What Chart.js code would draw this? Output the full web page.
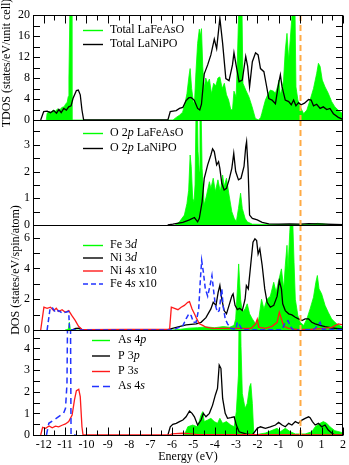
<!DOCTYPE html>
<html><head><meta charset="utf-8">
<script src="https://cdn.jsdelivr.net/npm/chart.js@4.4.1/dist/chart.umd.min.js"></script>
<style>
html,body{margin:0;padding:0;background:#fff;overflow:hidden}
#wrap{position:relative;width:349px;height:465px;background:#fff}
#wrap canvas{position:absolute;left:0;top:0}
</style></head><body>
<div id="wrap">
<canvas id="c0" width="349" height="465"></canvas>
<canvas id="c1" width="349" height="465"></canvas>
<canvas id="c2" width="349" height="465"></canvas>
<canvas id="c3" width="349" height="465"></canvas>
</div>
<script>
// ---------- tick labels ----------
const xTickLabels = [-12,-11,-10,-9,-8,-7,-6,-5,-4,-3,-2,-1,0,1,2];
const p1Ticks = [0,4,8,12,16,20];
const p2Ticks = [0,1,2,3];
const p3Ticks = [0,2,4,6];
const p4Ticks = [0,1,2,3,4];

// ---------- Panel 1: total DOS ----------
const totFeE = [-11.88,-11.84,-11.75,-11.65,-11.55,-11.45,-11.35,-11.25,-11.15,-11.05,-10.98,-10.9,-10.85,-10.82,-10.79,-10.76,-10.7,-10.68,
 -5.95,-5.8,-5.65,-5.5,-5.4,-5.3,-5.2,-5.15,-5.08,-5.0,-4.95,-4.88,-4.8,-4.72,-4.67,-4.62,-4.56,-4.5,-4.42,-4.33,-4.25,-4.15,-4.05,-3.95,-3.85,-3.76,-3.65,-3.55,-3.45,-3.35,-3.25,-3.17,-3.1,-3.0,-2.95,-2.89,-2.85,-2.74,-2.68,-2.55,-2.4,-2.25,-2.1,-1.95,-1.85,-1.8,-1.63,-1.5,-1.4,-1.25,-1.16,-1.05,-1.0,-0.93,-0.85,-0.78,-0.7,-0.62,-0.54,-0.47,-0.39,-0.35,-0.26,-0.2,-0.11,0.0,0.16,0.31,0.46,0.62,0.77,0.85,0.93,1.03,1.16,1.31,1.47,1.62,1.85,2.0];
const totFeV = [0,1.3,1.6,1.4,1.9,1.7,2.1,1.9,2.4,2.5,3.0,3.4,4.5,8,16,26,26,0,
 0,0.5,0.9,1.5,3.0,5.0,8.5,9.8,6.0,3.5,3.0,9,14.6,17.3,16,17.4,10.2,5.9,8.0,7.0,7.8,5.0,7.0,6.5,8.0,8.2,6.0,7.0,4.8,3.8,2.0,1.9,5.5,4.4,10,19,26,26,7.0,5.7,4.4,2.5,0.3,0,0.5,1.2,3.8,5.0,5.7,5.5,5.1,6.5,7.6,4.8,6.0,7.6,13.3,16.5,11.4,15.2,19.7,26,26,6.3,3.8,2.5,1.2,1.9,3.8,6.0,8.9,10.8,10.2,7.6,6.3,5.1,3.5,2.5,1.6,1.2];
const totNiE = [-12.14,-12.0,-11.84,-11.68,-11.53,-11.4,-11.29,-11.18,-11.06,-10.94,-10.83,-10.72,-10.63,-10.47,-10.38,-10.29,-10.21,-10.13,
 -6.19,-6.08,-5.95,-5.8,-5.65,-5.49,-5.34,-5.22,-5.11,-4.96,-4.8,-4.7,-4.62,-4.49,-4.33,-4.18,-4.02,-3.91,-3.76,-3.63,-3.48,-3.33,-3.17,-3.1,-2.99,-2.86,-2.71,-2.55,-2.46,-2.37,-2.24,-2.09,-1.97,-1.86,-1.7,-1.6,-1.47,-1.32,-1.16,-1.01,-0.93,-0.85,-0.7,-0.54,-0.42,-0.31,-0.2,-0.08,0.04,0.2,0.39,0.51,0.62,0.77,0.93,1.08,1.24,1.39,1.55,1.78,2.0];
const totNiV = [0,1.6,1.7,1.4,1.8,1.3,2.0,1.4,2.2,1.9,2.5,2.7,4.1,5.6,5.7,4.8,1.9,0,
 0,1.6,1.7,1.8,2.2,2.4,3.7,4.2,4.3,3.8,2.2,1.9,3.0,8.8,10.5,12.4,15.4,13.6,19.4,14.6,7.9,7.5,10.5,12.8,10.2,7.3,7.6,12.1,10.2,6.3,11.1,12.8,12.4,9.8,9.2,7.0,4.1,3.8,3.1,7.0,8.6,6.3,3.8,3.5,2.9,3.8,2.7,3.3,2.9,3.2,3.9,3.8,2.7,3.0,2.2,2.5,2.0,2.2,1.2,0.5,0.1];

// ---------- Panel 2: O 2p ----------
const o2pFeE = [-5.85,-5.65,-5.42,-5.3,-5.22,-5.15,-5.1,-5.03,-4.97,-4.92,-4.87,-4.82,-4.78,-4.72,-4.69,-4.64,-4.59,-4.49,-4.38,-4.25,-4.18,-4.07,-3.97,-3.85,-3.74,-3.63,-3.56,-3.45,-3.33,-3.2,-3.09,-2.99,-2.89,-2.79,-2.71,-2.58,-2.48,-2.24,-1.5,0.5,0.8,1.0,1.3,2.0];
const o2pFeV = [0,0.12,0.37,0.8,1.3,2.62,2.2,1.0,0.87,1.5,4.5,4.5,2.75,2.0,4.5,4.5,2.12,0.75,1.12,1.62,1.37,1.75,1.25,1.69,1.25,1.87,1.44,1.75,1.12,0.5,0.25,0.12,0.62,1.19,0.62,0.25,0.12,0.03,0.02,0.02,0.06,0.05,0.02,0.01];
const o2pNiE = [-6.2,-5.96,-5.49,-5.18,-4.95,-4.8,-4.72,-4.59,-4.49,-4.33,-4.18,-4.1,-4.02,-3.91,-3.82,-3.76,-3.67,-3.56,-3.45,-3.33,-3.2,-3.11,-3.02,-2.89,-2.77,-2.63,-2.55,-2.51,-2.44,-2.37,-2.24,-2.01,-1.78,-1.47,-1.0,-0.5,0.0,0.4,0.8,1.2,1.6,2.0];
const o2pNiV = [0,0.03,0.1,0.19,0.28,0.12,0.25,0.87,1.75,2.25,2.62,2.85,2.75,2.25,2.37,2.12,1.56,1.31,1.37,1.69,2.12,2.68,2.0,1.69,1.75,2.19,2.93,3.12,2.12,0.37,0.25,0.19,0.1,0.04,0.03,0.04,0.03,0.05,0.04,0.03,0.02,0.01];

// ---------- Panel 3: d and s states ----------
const fe3dE = [-11.0,-10.85,-10.8,-10.76,-10.6,-6.0,-5.6,-5.2,-4.8,-4.4,-4.0,-3.6,-3.3,-3.1,-3.02,-2.94,-2.88,-2.83,-2.79,-2.71,-2.58,-2.48,-2.37,-2.24,-2.09,-1.94,-1.81,-1.7,-1.55,-1.4,-1.24,-1.13,-1.01,-0.88,-0.77,-0.7,-0.62,-0.57,-0.49,-0.44,-0.36,-0.29,-0.23,-0.11,0.0,0.16,0.31,0.46,0.62,0.73,0.8,0.88,1.0,1.16,1.31,1.47,1.7,2.0];
const fe3dV = [0,0.05,0.5,0.05,0,0,0.05,0.12,0.15,0.2,0.15,0.22,0.18,0.3,0.72,2.67,4.29,3.0,2.0,1.15,1.37,1.7,1.05,0.72,0.4,0.72,2.0,1.37,2.0,2.2,3.1,2.45,3.2,3.97,2.67,4.19,5.5,3.97,6.35,7.5,7.5,4.4,2.0,0.93,0.5,0.3,0.72,1.37,2.13,3.1,3.54,2.67,2.35,1.6,1.15,0.72,0.4,0.17];
const ni3dE = [-10.7,-10.5,-10.3,-10.2,-6.25,-6.19,-5.8,-5.34,-4.87,-4.64,-4.41,-4.18,-4.07,-3.94,-3.84,-3.76,-3.67,-3.56,-3.45,-3.33,-3.2,-3.14,-3.05,-2.94,-2.83,-2.71,-2.58,-2.52,-2.43,-2.32,-2.21,-2.12,-2.04,-1.97,-1.89,-1.78,-1.66,-1.55,-1.4,-1.24,-1.08,-0.98,-0.88,-0.82,-0.7,-0.54,-0.39,-0.23,-0.08,0.08,0.23,0.39,0.54,0.7,0.93,1.16,1.47,1.78,2.0];
const ni3dV = [0,0.1,0.12,0,0,0.03,0.17,0.33,0.4,0.5,0.8,1.37,1.8,1.6,2.45,2.9,2.0,1.26,1.05,1.6,2.2,2.35,1.6,1.32,1.41,1.26,2.0,2.88,2.67,4.19,5.7,5.92,5.81,4.94,5.27,4.19,2.67,1.8,1.48,1.6,2.2,3.2,2.67,1.7,1.26,1.05,0.98,0.83,0.72,0.61,0.72,0.72,0.5,0.4,0.3,0.22,0.13,0.09,0.05];
const ni4sE = [-12.14,-11.99,-11.84,-11.68,-11.53,-11.41,-11.3,-11.14,-10.99,-10.83,-10.68,-10.52,-10.37,-10.21,
 -6.11,-6.03,-5.88,-5.72,-5.57,-5.42,-5.26,-5.18,-5.06,-4.95,-4.84,-4.72,-4.56,-4.41,-4.1,-3.79,-3.0,-2.3,-2.09,-2.01,-1.94,-1.63,-1.32,-1.08,-0.98,-0.88,-0.77,-0.54,-0.08,0.54,1.1,1.47,1.78,2.0];
const ni4sV = [0,1.48,1.41,1.48,1.26,1.41,1.2,1.32,1.15,1.26,0.93,0.61,0.24,0.03,
 0.05,1.48,1.41,1.32,1.48,1.6,1.8,1.85,1.37,1.05,0.72,0.4,0.3,0.18,0.11,0.11,0.1,0.1,0.4,0.7,0.18,0.11,0.24,0.5,1.15,0.72,0.24,0.11,0.03,0.05,0.1,0.17,0.4,0.33];
const fe4sE = [-11.84,-11.71,-11.61,-11.45,-11.3,-11.14,-10.99,-10.83,-10.79,-10.5,
 -5.96,-5.49,-5.34,-5.21,-5.1,-5.0,-4.87,-4.75,-4.67,-4.61,-4.53,-4.44,-4.33,-4.22,-4.13,-4.07,-3.97,-3.87,-3.79,-3.67,-3.61,-3.51,-3.4,-3.25,-3.02,-2.94,-2.83,-2.72,-0.85,-0.7,-0.57,-0.46,-0.35,0.6,0.7,0.93,1.05,2.0];
const fe4sV = [0,1.3,1.48,1.15,1.26,1.11,1.15,1.2,0.03,0,
 0,0.28,0.72,1.05,0.93,0.5,0.5,1.37,3.32,4.51,3.75,2.67,2.2,2.88,3.54,2.77,1.6,1.15,1.26,2.67,1.6,0.72,0.4,0.11,0.03,0.5,0.3,0.02,0.02,0.5,0.61,0.24,0.02,0.02,0.11,0.5,0.05,0.02];

// ---------- Panel 4: p and s states ----------
const as4pE = [-5.42,-5.26,-5.03,-4.8,-4.64,-4.56,-4.49,-4.33,-4.18,-4.02,-3.87,-3.76,-3.63,-3.45,-3.25,-3.09,-2.99,-2.89,-2.85,-2.81,-2.77,-2.71,-2.58,-2.48,-2.37,-2.31,-2.24,-2.17,-1.63,-1.08,-0.93,-0.7,-0.46,-0.23,0.23,0.54,0.7,0.93,1.08,1.24,1.39,1.62,1.93,2.0];
const as4pV = [0,0.38,0.46,0.38,0.92,1.08,0.62,0.69,0.77,0.62,0.54,0.77,0.54,0.62,0.46,0.38,1.08,2.77,6.5,6.5,4.1,1.92,1.23,1.46,2.23,2.38,1.46,0,0.09,0.31,0.15,0.31,0.15,0.05,0.05,0.15,0.38,0.54,0.62,0.54,0.38,0.2,0.12,0.1];
const p3pE = [-6.19,-6.08,-5.96,-5.8,-5.65,-5.49,-5.34,-5.18,-5.06,-4.95,-4.8,-4.64,-4.53,-4.41,-4.25,-4.1,-3.97,-3.87,-3.79,-3.71,-3.63,-3.51,-3.4,-3.25,-3.09,-2.99,-2.86,-2.55,-2.24,-2.01,-1.86,-1.63,-1.4,-1.16,-1.01,-0.85,-0.7,-0.54,-0.39,-0.23,-0.08,0.08,0.23,0.39,0.46,0.57,0.7,0.85,1.0,1.16,1.31,1.47,1.62,2.0];
const p3pV = [0,0.38,0.49,0.54,0.62,0.69,0.84,1.11,1.0,0.84,0.46,0.69,1.0,0.84,1.0,1.38,1.85,2.15,3.23,3.08,1.69,1.0,0.77,0.8,0.84,0.46,0.15,0.05,0,0.31,0.38,0.31,0.38,0.46,0.58,0.46,0.38,0.54,0.46,0.62,0.54,0.69,0.77,0.84,0.8,0.62,0.46,0.54,0.38,0.46,0.23,0.09,0,0];
const p3sE = [-12.14,-12.05,-11.91,-11.75,-11.6,-11.45,-11.3,-11.14,-10.98,-10.83,-10.67,-10.56,-10.47,-10.36,-10.29,-10.21,-10.16,
 -6.1,-6.0,-5.5,-5.2,-4.8,-2.4,2.0];
const p3sV = [0,0.35,0.31,0.42,0.33,0.41,0.38,0.45,0.51,0.62,0.92,1.62,2.05,2.11,1.77,0.38,0,
 0,0.05,0.08,0.06,0.02,0.02,0];
const as4sE = [-11.87,-11.76,-11.53,-11.3,-11.07,-10.98,-10.91,-10.86,-10.76,-10.72,-10.5];
const as4sV = [0,0.54,0.69,0.85,1.0,1.23,2.38,8,8,0,0];

// ---------- drawing ----------
const W = 349, H = 465, LEFT = 33, RIGHT = 343;
const TOPS = [15,120,225,330], BOTS = [120,225,330,435];
const FONT = 'Liberation Serif, Times New Roman, serif';
const GREEN = '#00ff00', ORANGE = '#ffaa44', BLUE = '#2233ff', RED = '#ff1a1a';

function pts(E, V){ return E.map((e,i)=>({x:e, y:V[i]})); }
function fillDs(E,V,order){ return {data:pts(E,V), borderColor:GREEN, borderWidth:0.8, backgroundColor:GREEN, fill:'origin', order}; }
function lineDs(E,V,color,order,dash,w){ return {data:pts(E,V), borderColor:color, borderWidth:w||1.3, borderDash:dash||[], fill:false, order}; }

const panelCfg = {};

const framePlugin = {
  id:'frame',
  afterDatasetsDraw(chart){
    const cfg = panelCfg[chart.canvas.id];
    const ctx = chart.ctx;
    const {left,right,top,bottom} = chart.chartArea;
    const xs = chart.scales.x, ys = chart.scales.y;
    ctx.save();
    // Fermi level
    const x0 = Math.round(xs.getPixelForValue(0)) + 0.5;
    ctx.strokeStyle = ORANGE; ctx.lineWidth = 2; ctx.setLineDash([6,4]);
    ctx.beginPath(); ctx.moveTo(x0, top); ctx.lineTo(x0, bottom); ctx.stroke();
    ctx.setLineDash([]);
    // frame
    ctx.strokeStyle = '#000'; ctx.lineWidth = 1;
    ctx.strokeRect(left+0.5, top+0.5, right-left-1, bottom-top);
    // y ticks (inward, both sides)
    ctx.beginPath();
    for (const v of cfg.yMinor){
      const y = Math.round(ys.getPixelForValue(v)) + 0.5;
      ctx.moveTo(left, y); ctx.lineTo(left+7, y);
      ctx.moveTo(right, y); ctx.lineTo(right-7, y);
    }
    // x ticks on outer edge
    if (cfg.xEdge){
      const yE = cfg.xEdge === 'top' ? top+0.5 : bottom+0.5;
      const dir = cfg.xEdge === 'top' ? 1 : -1;
      for (let e=-12.5; e<=2.001; e+=0.5){
        const x = Math.round(xs.getPixelForValue(e)) + 0.5;
        const len = Math.abs(e - Math.round(e)) < 0.01 ? 8 : 5;
        ctx.moveTo(x, yE); ctx.lineTo(x, yE + dir*len);
      }
    }
    ctx.stroke();
    // legend
    ctx.textBaseline = 'middle';
    for (const it of cfg.legend){
      ctx.strokeStyle = it.color; ctx.lineWidth = it.lw || 1.4;
      ctx.setLineDash(it.dash || []);
      ctx.beginPath(); ctx.moveTo(it.x1, it.y+0.5); ctx.lineTo(it.x2, it.y+0.5); ctx.stroke();
      ctx.setLineDash([]);
      let tx = it.tx;
      ctx.fillStyle = '#000';
      for (const [txt, ital] of it.parts){
        ctx.font = (ital ? 'italic ' : '') + '12px ' + FONT;
        ctx.fillText(txt, tx, it.y);
        tx += ctx.measureText(txt).width;
      }
    }
    // axis titles
    if (cfg.yTitle){
      ctx.font = '12px ' + FONT; ctx.fillStyle = '#000';
      ctx.textAlign = 'center'; ctx.textBaseline = 'middle';
      ctx.translate(cfg.yTitle.x, cfg.yTitle.y); ctx.rotate(-Math.PI/2);
      ctx.fillText(cfg.yTitle.text, 0, 0);
      ctx.setTransform(1,0,0,1,0,0);
    }
    if (cfg.xTitle){
      ctx.font = '12px ' + FONT; ctx.fillStyle = '#000';
      ctx.textAlign = 'center'; ctx.textBaseline = 'middle';
      ctx.fillText(cfg.xTitle.text, cfg.xTitle.x, cfg.xTitle.y);
    }
    ctx.restore();
  }
};

function makeChart(idx, datasets, yMax, yTicks){
  const id = 'c' + idx;
  const isBottom = idx === 3;
  return new Chart(document.getElementById(id), {
    type:'line',
    data:{datasets},
    options:{
      responsive:false, animation:false, devicePixelRatio:1,
      layout:{padding:{left:0, right:W-RIGHT, top:TOPS[idx], bottom: isBottom ? 0 : H-BOTS[idx]}},
      plugins:{legend:{display:false}, tooltip:{enabled:false}},
      elements:{point:{radius:0}, line:{tension:0}},
      scales:{
        x:{type:'linear', min:-12.5, max:2, display: isBottom,
           afterBuildTicks:s=>{ s.ticks = xTickLabels.map(v=>({value:v})); },
           afterFit:s=>{ if (isBottom) s.height = H - BOTS[3]; },
           grid:{display:false, drawTicks:false}, border:{display:false},
           ticks:{font:{family:FONT,size:12}, color:'#000', padding:3, maxRotation:0, autoSkip:false}},
        y:{type:'linear', min:0, max:yMax,
           afterBuildTicks:s=>{ s.ticks = yTicks.map(v=>({value:v})); },
           afterFit:s=>{ s.width = LEFT; },
           grid:{display:false, drawTicks:false}, border:{display:false},
           ticks:{font:{family:FONT,size:12}, color:'#000', padding:3, autoSkip:false}}
      }
    },
    plugins:[framePlugin]
  });
}

function leg(y, color, parts, opt){
  return Object.assign({y, color, parts, x1:83, x2:103, tx:110}, opt||{});
}

panelCfg.c0 = {
  yMinor:[2,4,6,8,10,12,14,16,18], xEdge:'top',
  legend:[leg(30,GREEN,[['Total LaFeAsO',false]]), leg(44,'#000',[['Total LaNiPO',false]])],
  yTitle:{text:'TDOS (states/eV/unit cell)', x:7, y:63}
};
panelCfg.c1 = {
  yMinor:[0.5,1,1.5,2,2.5,3,3.5],
  legend:[leg(133,GREEN,[['O 2',false],['p',true],[' LaFeAsO',false]]), leg(148,'#000',[['O 2',false],['p',true],[' LaNiPO',false]])]
};
panelCfg.c2 = {
  yMinor:[1,2,3,4,5,6],
  legend:[leg(245,GREEN,[['Fe 3',false],['d',true]]), leg(257.5,'#000',[['Ni 3',false],['d',true]]),
          leg(270.5,RED,[['Ni 4',false],['s',true],[' x10',false]]), leg(283.5,BLUE,[['Fe 4',false],['s',true],[' x10',false]],{dash:[5,3],lw:1.6})],
  yTitle:{text:'DOS (states/eV/spin/atom)', x:16, y:270}
};
panelCfg.c3 = {
  yMinor:[0.5,1,1.5,2,2.5,3,3.5,4,4.5], xEdge:'bottom',
  legend:[leg(340,GREEN,[['As 4',false],['p',true]],{x1:92,x2:110,tx:118}), leg(355.5,'#000',[['P 3',false],['p',true]],{x1:92,x2:110,tx:118}),
          leg(371,RED,[['P 3',false],['s',true]],{x1:92,x2:110,tx:118}), leg(386,BLUE,[['As 4',false],['s',true]],{x1:92,x2:110,tx:118,dash:[7,4],lw:1.6})],
  xTitle:{text:'Energy (eV)', x:188, y:457}
};

makeChart(0, [fillDs(totFeE,totFeV,2), lineDs(totNiE,totNiV,'#000',1)], 20, p1Ticks);
makeChart(1, [fillDs(o2pFeE,o2pFeV,2), lineDs(o2pNiE,o2pNiV,'#000',1)], 3.93, p2Ticks);
makeChart(2, [fillDs(fe3dE,fe3dV,4), lineDs(ni3dE,ni3dV,'#000',3), lineDs(ni4sE,ni4sV,RED,2), lineDs(fe4sE,fe4sV,BLUE,1,[5,3],1.5)], 6.82, p3Ticks);
makeChart(3, [fillDs(as4pE,as4pV,4), lineDs(p3pE,p3pV,'#000',3), lineDs(p3sE,p3sV,RED,2), lineDs(as4sE,as4sV,BLUE,1,[6,4],1.5)], 4.85, p4Ticks);
</script>
</body></html>
